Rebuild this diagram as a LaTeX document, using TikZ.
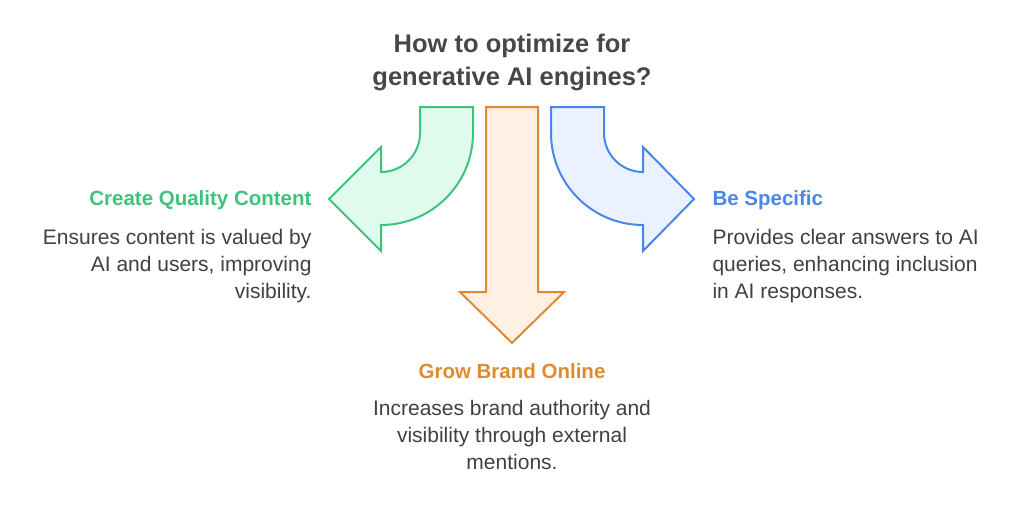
\documentclass[tikz,border=0pt]{standalone}
\usepackage{fontspec}
\setmainfont{Liberation Sans}
\begin{document}
\begin{tikzpicture}[x=1pt,y=-1pt,
  shp/.style={line width=2pt,line join=miter},
  hd/.style={font=\bfseries\fontsize{20.5}{24}\selectfont},
  bd/.style={font=\fontsize{21}{27}\selectfont,text=black!75},
  ttl/.style={font=\bfseries\fontsize{25.5}{33}\selectfont,text=black!72,align=center}]
\definecolor{gS}{HTML}{3CC47C}\definecolor{gF}{HTML}{E0FBEE}
\definecolor{oS}{HTML}{E08A30}\definecolor{oF}{HTML}{FFF0E3}
\definecolor{bS}{HTML}{4A86E8}\definecolor{bF}{HTML}{EBF2FF}
\useasboundingbox (0,0) rectangle (1024,509);
\node[ttl] (title) at (512,62) {How to optimize for\\generative AI engines?};
\draw[shp,draw=gS,fill=gF] (420,107) -- (473,107) -- (473,133) arc (0:90:92) -- (381,251) -- (329,199) -- (381,147) -- (381,172) arc (90:0:39) -- cycle;
\draw[shp,draw=oS,fill=oF] (486,107) -- (538,107) -- (538,292) -- (564,292) -- (512,343) -- (460,292) -- (486,292) -- cycle;
\draw[shp,draw=bS,fill=bF] (551,107) -- (604,107) -- (604,133) arc (180:90:39) -- (643,147) -- (694,199) -- (643,251) -- (643,225) arc (90:180:92) -- cycle;
\node[hd,text=gS,anchor=east] (h1) at (315,200) {Create Quality Content};
\node[bd,anchor=north east,align=right] (b1) at (315,226) {Ensures content is valued by\\AI and users, improving\\visibility.};
\node[hd,text=bS,anchor=west] (h3) at (709,200) {Be Specific};
\node[bd,anchor=north west,align=left] (b3) at (709,226) {Provides clear answers to AI\\queries, enhancing inclusion\\in AI responses.};
\node[hd,text=oS] (h2) at (512,371) {Grow Brand Online};
\node[bd,anchor=north,align=center] (b2) at (512,397) {Increases brand authority and\\visibility through external\\mentions.};
\end{tikzpicture}
\end{document}
